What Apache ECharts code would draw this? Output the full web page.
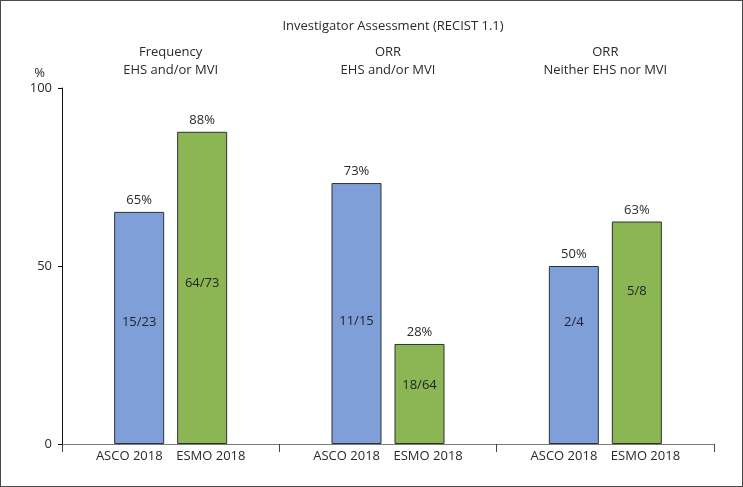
<!DOCTYPE html>
<html>
<head>
<meta charset="utf-8">
<script src="https://cdn.jsdelivr.net/npm/echarts@6/dist/echarts.min.js"></script>
<style>
  html, body { margin: 0; padding: 0; background: #fff; }
  #wrap { position: relative; width: 743px; height: 487px; }
  #chart { position: absolute; left: 0; top: 0; width: 743px; height: 487px; }
  #frame { position: absolute; left: 0; top: 0; width: 743px; height: 487px; box-sizing: border-box; border: 1px solid #4a4a4a; pointer-events: none; }
</style>
</head>
<body>
<div id="wrap"><div id="chart"></div><div id="frame"></div></div>
<script>
// ---- data ----
const chartTitle = 'Investigator Assessment (RECIST 1.1)';
const groups = ['Frequency\nEHS and/or MVI', 'ORR\nEHS and/or MVI', 'ORR\nNeither EHS nor MVI'];
const sources = ['ASCO 2018', 'ESMO 2018'];
const ascoValues = [65.2, 73.3, 50.0];
const esmoValues = [87.7, 28.1, 62.5];
const ascoPct = ['65%', '73%', '50%'];
const esmoPct = ['88%', '28%', '63%'];
const ascoFrac = ['15/23', '11/15', '2/4'];
const esmoFrac = ['64/73', '18/64', '5/8'];
const yTicks = [0, 50, 100];

// ---- styling ----
const FONT = 'Open Sans';
const TEXT = '#2a2a2a';
const ascoShift = [-6, 8, -33];
const esmoShift = [-5, -9, -41];

function barData(values, shifts) {
  return values.map((v, i) => ({ value: v, label: { offset: [0, shifts[i]] } }));
}
function topMarks(values, pcts) {
  return values.map((v, i) => ({ coord: [i, v], value: pcts[i] }));
}
function makeSeries(name, values, fracs, pcts, shifts, color) {
  return {
    name: name,
    type: 'bar',
    barWidth: 50,
    barGap: '26%',
    data: barData(values, shifts),
    itemStyle: { color: color, borderColor: '#2e3135', borderWidth: 1 },
    label: {
      show: true, position: 'inside', color: '#1e2228',
      fontFamily: FONT, fontSize: 13,
      formatter: p => fracs[p.dataIndex]
    },
    emphasis: { disabled: true },
    markPoint: {
      symbol: 'rect', symbolSize: 0, silent: true,
      label: {
        show: true, position: 'top', distance: 5, color: TEXT,
        fontFamily: FONT, fontSize: 13, formatter: p => p.value
      },
      data: topMarks(values, pcts)
    }
  };
}

const chart = echarts.init(document.getElementById('chart'), null, { renderer: 'canvas' });
chart.setOption({
  animation: false,
  backgroundColor: '#fff',
  title: {
    text: chartTitle, left: 388, top: 15, textAlign: 'center',
    textStyle: { fontFamily: FONT, fontSize: 13, fontWeight: 'normal', color: TEXT }
  },
  grid: { left: 62, right: 29, top: 88, bottom: 43 },
  xAxis: [
    {
      type: 'category', data: groups, position: 'bottom',
      axisLine: { lineStyle: { color: '#7a7a7a', width: 1 } },
      axisTick: { show: true, length: 8, lineStyle: { color: '#444' } },
      axisLabel: {
        margin: 6, color: TEXT, fontFamily: FONT, fontSize: 13,
        formatter: () => sources[0] + '    ' + sources[1]
      }
    },
    {
      type: 'category', data: groups, position: 'top',
      axisLine: { show: false }, axisTick: { show: false },
      axisLabel: { margin: 9, color: TEXT, fontFamily: FONT, fontSize: 13, lineHeight: 18 }
    }
  ],
  yAxis: {
    type: 'value', min: yTicks[0], max: yTicks[yTicks.length - 1], interval: 50,
    name: '%', nameLocation: 'end', nameGap: 8,
    nameTextStyle: { fontFamily: FONT, fontSize: 13, color: TEXT, align: 'right', padding: [0, 17, 0, 0] },
    axisLine: { show: true, lineStyle: { color: '#111', width: 1 } },
    axisTick: { show: true, length: 4, lineStyle: { color: '#111' } },
    splitLine: { show: false },
    axisLabel: { margin: 10, color: TEXT, fontFamily: FONT, fontSize: 13 }
  },
  series: [
    makeSeries(sources[0], ascoValues, ascoFrac, ascoPct, ascoShift, '#7f9fd8'),
    makeSeries(sources[1], esmoValues, esmoFrac, esmoPct, esmoShift, '#8cb554')
  ]
});
</script>
</body>
</html>
